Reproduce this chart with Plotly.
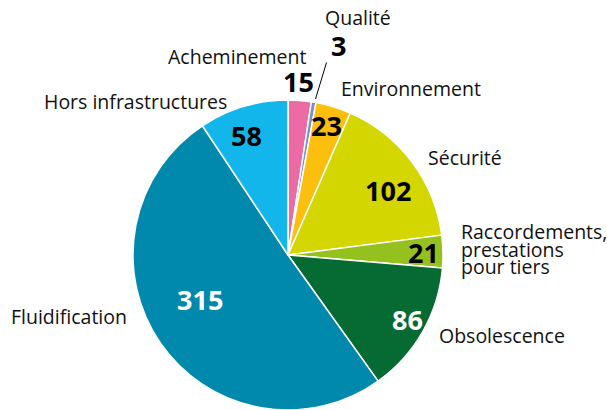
import plotly.graph_objects as go

W, H = 607, 410

categories = ["Acheminement", "Qualité", "Environnement", "Sécurité",
              "Raccordements, prestations pour tiers", "Obsolescence",
              "Fluidification", "Hors infrastructures"]
values = [15, 3, 23, 102, 21, 86, 315, 58]
colors = ["#eb6ca5", "#7c8cc4", "#fcbf0e", "#d4d600", "#95c11f",
          "#066b33", "#0088ad", "#13b6eb"]

fig = go.Figure(go.Pie(
    labels=categories, values=values, sort=False,
    direction="clockwise", rotation=0,
    marker=dict(colors=colors, line=dict(color="white", width=1.5)),
    textinfo="none", hoverinfo="label+value",
    domain=dict(x=[133 / W, 443 / W], y=[0, 310 / H]),
    showlegend=False,
))

def P(px, py):
    return px / W, 1 - py / H

LABEL_FONT = dict(family="Open Sans, sans-serif", size=19.5, color="#111111")
NUM_FONT = "Open Sans, sans-serif"

def big(s):
    return f'<span style="font-size:19.5px">{s}</span>'

# category labels: (text, x, y, xanchor, font size used for line spacing)
label_pos = [
    ("Acheminement", 308, 56, "right", 19.5),
    ("Qualité", 358, 17, "center", 19.5),
    ("Environnement", 339, 89, "left", 19.5),
    ("Sécurité", 426, 157, "left", 19.5),
    ("<br>".join(big(s) for s in ["Raccordements,", "prestations", "pour tiers"]),
     459, 249, "left", 13.6),
    ("Obsolescence", 437, 335, "left", 19.5),
    ("Fluidification", 9, 316, "left", 19.5),
    ("Hors infrastructures", 42, 101, "left", 19.5),
]
annotations = []
for text, px, py, xa, fs in label_pos:
    x, y = P(px, py)
    annotations.append(dict(text=text, x=x, y=y, xref="paper", yref="paper",
                            xanchor=xa, yanchor="middle", showarrow=False,
                            align="left", font=dict(LABEL_FONT, size=fs)))

# value labels: (index, x, y, colour)
num_pos = [
    (0, 298, 82, "black"),
    (1, 338, 46, "black"),
    (2, 326, 125, "black"),
    (3, 388, 190, "black"),
    (4, 423, 252, "black"),
    (5, 407, 319, "white"),
    (6, 200, 299, "white"),
    (7, 246, 135, "black"),
]
for i, px, py, col in num_pos:
    x, y = P(px, py)
    annotations.append(dict(text=f"<b>{values[i]}</b>", x=x, y=y,
                            xref="paper", yref="paper", xanchor="center",
                            yanchor="middle", showarrow=False,
                            font=dict(family=NUM_FONT, size=27, color=col)))

x0, y0 = P(326.5, 62.5)
x1, y1 = P(315.5, 99)
fig.update_layout(
    width=W, height=H,
    margin=dict(l=0, r=0, t=0, b=0),
    paper_bgcolor="white", plot_bgcolor="white",
    annotations=annotations,
    shapes=[dict(type="line", xref="paper", yref="paper",
                 x0=x0, y0=y0, x1=x1, y1=y1,
                 line=dict(color="black", width=1))],
)

fig.write_html("out.html")
